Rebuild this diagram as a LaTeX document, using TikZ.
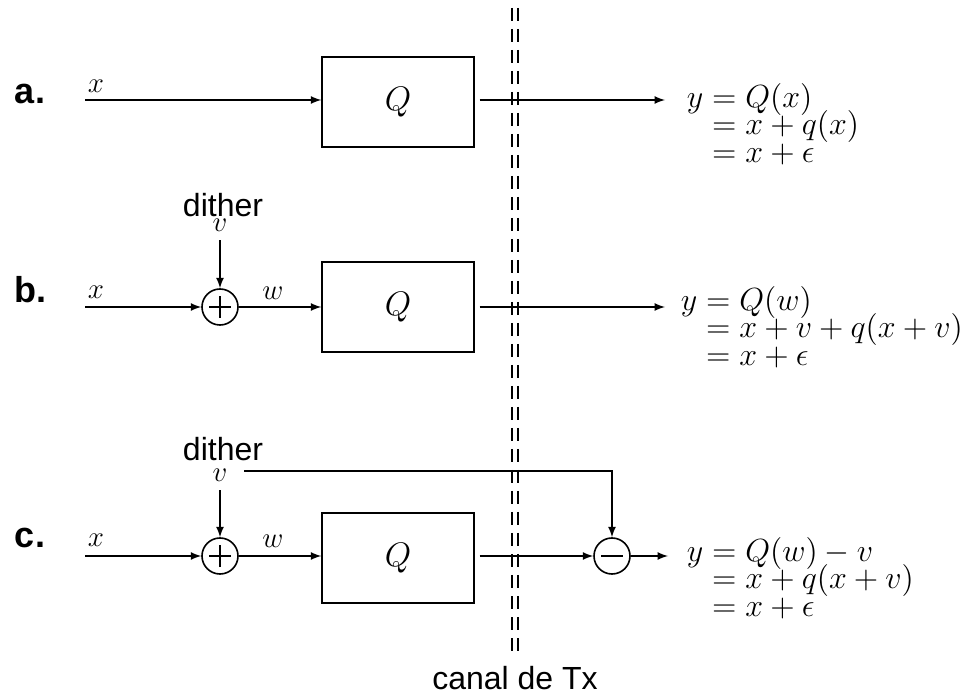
\RequirePackage{fix-cm}
\documentclass[tikz,border=0pt]{standalone}
\usepackage{fontspec}
\setsansfont{Liberation Sans}
\usetikzlibrary{positioning}

\newcommand{\eqfont}{\fontsize{16}{13.8}\selectfont\lineskiplimit=-8pt\relax}

\tikzstyle{block}=[rectangle, draw, line width=0.7pt,
                   minimum width=76pt, minimum height=45pt, inner sep=0pt,
                   font=\fontsize{17}{20}\selectfont]
\tikzstyle{summer}=[circle, draw, minimum size=18pt, inner sep=0pt,
                    path picture={
                      \draw ([xshift=-5.5pt]path picture bounding box.center)
                         -- ([xshift=5.5pt]path picture bounding box.center);
                      \draw ([yshift=-5.5pt]path picture bounding box.center)
                         -- ([yshift=5.5pt]path picture bounding box.center);}]
\tikzstyle{subtr}=[circle, draw, minimum size=18pt, inner sep=0pt,
                   path picture={
                     \draw ([xshift=-5.5pt]path picture bounding box.center)
                        -- ([xshift=5.5pt]path picture bounding box.center);}]
\tikzstyle{sig}=[inner sep=4pt, font=\fontsize{14.5}{16}\selectfont]
\tikzstyle{sflabel}=[inner sep=0pt, font=\sffamily\fontsize{16}{18}\selectfont]
\tikzstyle{rowlabel}=[inner sep=0pt, font=\sffamily\bfseries\fontsize{18}{20}\selectfont]
\tikzstyle{eqn}=[align=left, anchor=west, inner sep=0pt, font=\eqfont]
\tikzstyle{chan}=[line width=0.6pt, dash pattern=on 6.5pt off 4pt]

\begin{document}
\begin{tikzpicture}[x=0.5pt, y=-0.5pt, >=latex, line width=0.8pt]
  \useasboundingbox (0,0) rectangle (965,695);

  %%%%%%%%%%%%%%%%%%%%%%%%%%%%%%
  % channel
  \draw [chan] (512,8) -- (512,656);
  \draw [chan] (518,8) -- (518,656);
  \node (canal) at (515,678) [sflabel] {canal de Tx};

  %%%%%%%%%%%%%%%%%%%%%%%%%%%%%%
  % a. plain quantizer
  \node (lab_a) at (30,94) [rowlabel] {a.};
  \coordinate (in_a) at (85,100);
  \node (x_a) at (96,86) [sig] {$x$};
  \node (q_a) at (398,102) [block] {$Q$};
  \coordinate (out_a) at (665,100);
  \node (eq_a) at (686,126) [eqn] {$y = Q(x)$\\$\phantom{y}= x + q(x)$\\$\phantom{y}= x + \epsilon$};

  \draw [->] (in_a) -- (in_a -| q_a.west);
  \draw [->, shorten <=2.5pt] (out_a -| q_a.east) -- (out_a);

  %%%%%%%%%%%%%%%%%%%%%%%%%%%%%%
  % b. dither added
  \node (lab_b) at (30,290) [rowlabel] {b.};
  \coordinate (in_b) at (85,307);
  \node (x_b) at (96,292) [sig] {$x$};
  \node (sum_b) at (220,307) [summer] {};
  \node (dith_b) at (223,205) [sflabel] {dither};
  \node (v_b) at (220,225) [sig] {$v$};
  \node (w_b) at (273,293) [sig] {$w$};
  \node (q_b) at (398,307) [block] {$Q$};
  \coordinate (out_b) at (665,307);
  \node (eq_b) at (680,329) [eqn] {$y = Q(w)$\\$\phantom{y}= x + v + q(x+v)$\\$\phantom{y}= x + \epsilon$};

  \draw [->] (in_b) -- (sum_b);
  \draw [->] (v_b) -- (sum_b);
  \draw [->] (sum_b) -- (q_b);
  \draw [->, shorten <=2.5pt] (q_b) -- (out_b);

  %%%%%%%%%%%%%%%%%%%%%%%%%%%%%%
  % c. subtractive dither
  \node (lab_c) at (30,538) [rowlabel] {c.};
  \coordinate (in_c) at (85,556);
  \node (x_c) at (96,540) [sig] {$x$};
  \node (sum_c) at (220,556) [summer] {};
  \node (dith_c) at (223,449) [sflabel] {dither};
  \node (v_c) at (220,475) [sig] {$v$};
  \node (w_c) at (273,541) [sig] {$w$};
  \node (q_c) at (398,558) [block] {$Q$};
  \node (sub_c) at (612,556) [subtr] {};
  \coordinate (out_c) at (668,556);
  \coordinate (fb_c) at (244,471);
  \node (eq_c) at (686,580) [eqn] {$y = Q(w) - v$\\$\phantom{y}= x + q(x+v)$\\$\phantom{y}= x + \epsilon$};

  \draw [->] (in_c) -- (sum_c);
  \draw [->] (v_c) -- (sum_c);
  \draw [->] (sum_c) -- (q_c.west |- sum_c);
  \draw [->, shorten <=2.5pt] (q_c.east |- sub_c) -- (sub_c);
  \draw [->] (fb_c) -| (sub_c);
  \draw [->] (sub_c) -- (out_c);

\end{tikzpicture}
\end{document}
